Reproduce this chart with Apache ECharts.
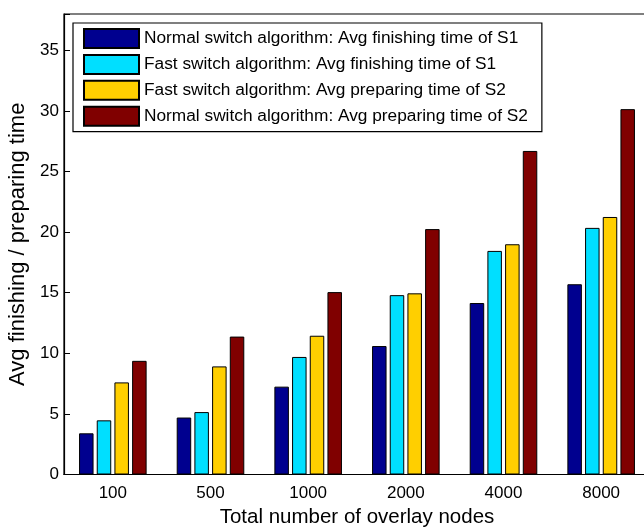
<!DOCTYPE html>
<html>
<head>
<meta charset="utf-8">
<script src="https://cdn.jsdelivr.net/npm/echarts@6/dist/echarts.min.js"></script>
<style>
html,body{margin:0;padding:0;background:#fff;}
#chart{width:644px;height:527px;}
</style>
</head>
<body>
<div id="chart"></div>
<script>
const categories = ['100', '500', '1000', '2000', '4000', '8000'];
const normalFinishS1 = [3.4, 4.7, 7.25, 10.6, 14.15, 15.7];
const fastFinishS1 = [4.47, 5.15, 9.7, 14.8, 18.45, 20.35];
const fastPrepareS2 = [7.6, 8.92, 11.45, 14.95, 19.0, 21.25];
const normalPrepareS2 = [9.38, 11.38, 15.05, 20.25, 26.7, 30.15];
const seriesNames = [
  'Normal switch algorithm: Avg finishing time of S1',
  'Fast switch algorithm: Avg finishing time of S1',
  'Fast switch algorithm: Avg preparing time of S2',
  'Normal switch algorithm: Avg preparing time of S2'
];
const seriesColors = ['#00008F', '#00DFFF', '#FFCF00', '#800000'];
const seriesData = [normalFinishS1, fastFinishS1, fastPrepareS2, normalPrepareS2];

const FONT = 'Liberation Sans, Arial, sans-serif';
const chart = echarts.init(document.getElementById('chart'), null, {renderer: 'canvas'});
chart.setOption({
  animation: false,
  backgroundColor: '#fff',
  textStyle: {fontFamily: FONT},
  grid: {left: 64, top: 14, width: 586, height: 460.5, containLabel: false,
    outerBoundsMode: 'none',
    show: true, borderColor: '#000', borderWidth: 1.2, backgroundColor: 'transparent'},
  legend: {
    orient: 'vertical', left: 73, top: 23,
    padding: [5, 14, 5, 10],
    itemWidth: 55, itemHeight: 19, itemGap: 4.9,
    icon: 'rect',
    borderColor: '#000', borderWidth: 1.2, backgroundColor: '#fff',
    textStyle: {fontSize: 17.3, color: '#000', fontFamily: FONT},
    data: seriesNames
  },
  xAxis: [{
    type: 'category', data: categories, position: 'bottom',
    axisLine: {lineStyle: {color: '#000', width: 1.2}},
    axisTick: {inside: true, alignWithLabel: true, length: 6, lineStyle: {color: '#000'}},
    axisLabel: {fontSize: 17, color: '#000', margin: 10, fontFamily: FONT},
    name: 'Total number of overlay nodes', nameLocation: 'middle', nameGap: 32,
    nameTextStyle: {fontSize: 20.5, color: '#000', fontFamily: FONT}
  }, {
    type: 'category', data: categories, position: 'top',
    axisLine: {show: false},
    axisTick: {inside: true, alignWithLabel: true, length: 6, lineStyle: {color: '#000'}},
    axisLabel: {show: false}
  }],
  yAxis: [{
    type: 'value', min: 0, max: 38, interval: 5,
    axisLine: {show: true, lineStyle: {color: '#000', width: 1.2}},
    axisTick: {show: true, inside: true, length: 6, lineStyle: {color: '#000'}},
    axisLabel: {fontSize: 17, color: '#000', margin: 5, fontFamily: FONT,
      formatter: v => (v % 5 === 0 ? String(v) : '')},
    splitLine: {show: false},
    name: 'Avg finishing / preparing time', nameLocation: 'middle', nameGap: 35,
    nameTextStyle: {fontSize: 22, color: '#000', fontFamily: FONT}
  }],
  series: seriesNames.map((name, i) => ({
    name: name, type: 'bar', data: seriesData[i],
    barWidth: 14.5, barGap: '22%',
    itemStyle: {color: seriesColors[i], borderColor: '#000', borderWidth: 1}
  }))
});
</script>
</body>
</html>
